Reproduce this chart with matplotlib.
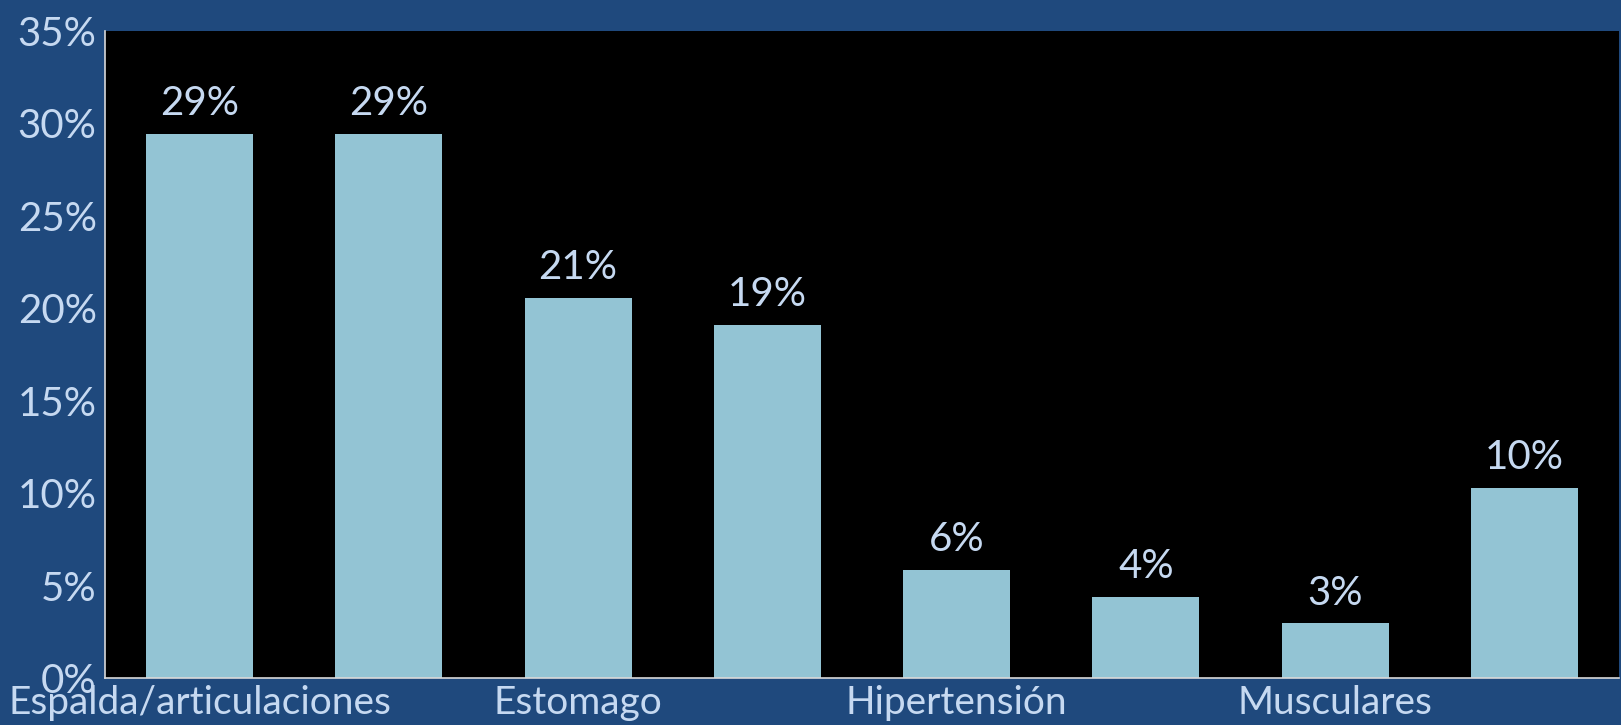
import numpy as np
import matplotlib
matplotlib.use("Agg")
import matplotlib.pyplot as plt

# values (fractions); only every other category is labelled
values = [0.2943, 0.2943, 0.2057, 0.1912, 0.0584, 0.0438, 0.0295, 0.1028]
shown_labels = ["Espalda/articulaciones", "Estomago", "Hipertensión", "Musculares"]
y_ticks = [0, 0.05, 0.10, 0.15, 0.20, 0.25, 0.30, 0.35]

bg = "#1F497D"
bar_color = "#93C4D4"
text_color = "#C6D9F1"

plt.rcParams["font.family"] = ["Lato", "DejaVu Sans"]

fig = plt.figure(figsize=(16.21, 7.25), dpi=100, facecolor=bg)
ax = fig.add_axes([105 / 1621, 47 / 725, 1514 / 1621, 647 / 725])
ax.set_facecolor("black")

x = np.arange(len(values))
bars = ax.bar(x, values, width=0.566, color=bar_color, zorder=2)

for b, v in zip(bars, values):
    ax.annotate(f"{v:.0%}", (b.get_x() + b.get_width() / 2, v),
                xytext=(0, 13.5), textcoords="offset points",
                ha="center", va="baseline", fontsize=29, color=text_color)

ax.set_xlim(-0.5, len(values) - 0.5)
ax.set_ylim(0, 0.35)
ax.set_yticks(y_ticks)
ax.set_yticklabels([f"{t:.0%}" for t in y_ticks])
ax.set_xticks(x[::2])
ax.set_xticklabels(shown_labels, fontsize=28)

ax.tick_params(axis="y", length=0, labelsize=29, labelcolor=text_color, pad=6)
ax.tick_params(axis="x", length=0, labelcolor=text_color, pad=5)

for side in ["top", "right"]:
    ax.spines[side].set_visible(False)
for side in ["left", "bottom"]:
    ax.spines[side].set_color("#D9D9D9")
    ax.spines[side].set_linewidth(1.2)

fig.savefig("out.png", dpi=100, facecolor=bg)
